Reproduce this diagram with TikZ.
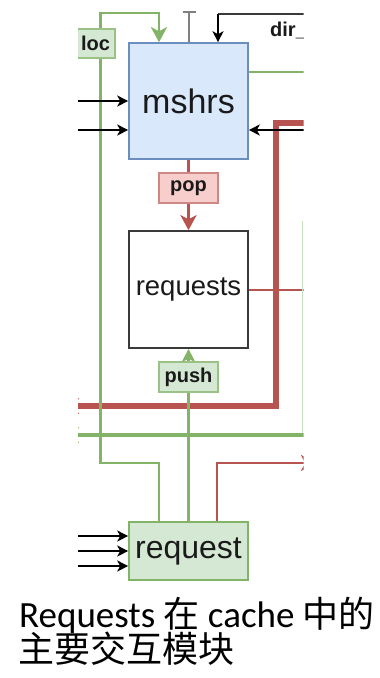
\documentclass[tikz,border=0pt]{standalone}
\usepackage{fontspec}
\setmainfont{Liberation Sans}
\newfontfamily\capfont{Carlito}
\newfontfamily\cjkfont{Noto Sans CJK SC}
\usetikzlibrary{arrows.meta}

\definecolor{gfill}{HTML}{D5E8D4}
\definecolor{gline}{HTML}{82B366}
\definecolor{glight}{HTML}{C9E0C2}
\definecolor{rfill}{HTML}{F8CECC}
\definecolor{rline}{HTML}{B85450}
\definecolor{bfill}{HTML}{DAE8FC}
\definecolor{bline}{HTML}{6C8EBF}
\definecolor{ink}{HTML}{1A1A1A}
\definecolor{wire}{HTML}{3A3A3A}

% caption style: fixed 35pt baseline distance regardless of glyph heights
\newcommand\captionstyle{\capfont\fontsize{37}{35}\selectfont\lineskiplimit=-100pt\relax}
\newcommand\cjkcap{\cjkfont\fontsize{36}{35}\selectfont}

\tikzset{
  box/.style={rectangle, inner sep=0pt, line width=1.6pt, text=ink},
  bluebox/.style={box, draw=bline, fill=bfill},
  greenbox/.style={box, draw=gline, fill=gfill},
  plainbox/.style={box, draw=wire, fill=white},
  tagred/.style={box, draw=rline!70, fill=rfill, minimum width=59pt, minimum height=30pt,
                 font=\bfseries\fontsize{20}{22}\selectfont},
  taggreen/.style={box, draw=gline!80, fill=gfill, minimum width=59pt, minimum height=30pt,
                 font=\bfseries\fontsize{20}{22}\selectfont},
  sig/.style={line width=1.5pt, draw=black},
  sigtip/.style={-{Stealth[length=11pt,width=11pt,inset=3pt]}},
  bigtip/.style={-{Stealth[length=15pt,width=16pt,inset=4pt]}},
  gwire/.style={line width=2.8pt, draw=gline},
  rwire/.style={line width=2.6pt, draw=rline},
  rbus/.style={line width=5.5pt, draw=rline},
  gbus/.style={line width=4.8pt, draw=gline},
}

\begin{document}
\begin{tikzpicture}[x=1pt,y=-1pt]
\useasboundingbox (0,0) rectangle (380,678);

\begin{scope}
\clip (78,0) rectangle (303.5,600);

% ---- blocks ----
\node[bluebox, minimum width=119pt, minimum height=116pt,
      font=\fontsize{34}{36}\selectfont] (mshrs) at (188.5,101) {mshrs};
\node[plainbox, minimum width=119pt, minimum height=117pt,
      font=\fontsize{27.5}{30}\selectfont] (requests) at (188.5,289.5) {requests};
\node[greenbox, minimum width=119pt, minimum height=58pt,
      font=\fontsize{32}{34}\selectfont] (request) at (188.5,551) {request};

% ---- edge labels ----
\node[tagred] (pop) at (188.5,188) {pop};
\node[taggreen] (push) at (188.5,377) {push};
\node[box, draw=gline!80, fill=gfill, minimum height=29pt, text width=33pt,
      inner xsep=5pt, align=right, font=\bfseries\fontsize{20}{22}\selectfont]
      (loc) at (93.5,43.5) {loc};
\node[anchor=base west, inner sep=0pt, text=ink,
      font=\bfseries\fontsize{20}{22}\selectfont] (dirlbl) at (270,36) {dir\_};

% ---- routing points ----
\coordinate (gA) at (100.7,13);
\coordinate (gB) at (159,13);
\coordinate (gC) at (100.7,463);
\coordinate (gD) at (159,463);
\coordinate (tTop) at (189,11);
\coordinate (dR) at (312,14);
\coordinate (dL) at (218,14);
\coordinate (gR) at (312,72);
\coordinate (bR) at (312,130);
\coordinate (bL1) at (70,101);
\coordinate (bL2) at (70,130);
\coordinate (rA) at (312,123);
\coordinate (rB) at (276,123);
\coordinate (rC) at (276,406);
\coordinate (rD) at (64,406);
\coordinate (rE) at (312,290);
\coordinate (lgA) at (302.5,221);
\coordinate (lgB) at (302.5,435);
\coordinate (gE) at (312,435);
\coordinate (gF) at (64,435);
\coordinate (rF) at (217,463);
\coordinate (rG) at (316,463);
\coordinate (qL1) at (70,536);
\coordinate (qL2) at (70,551);
\coordinate (qL3) at (70,566);

% ---- red wires ----
\draw[rwire] (requests.east |- rE) -- (rE);
\draw[rbus, bigtip] (rA) -- (rB) -- (rC) -- (rD);
\draw[rwire] (mshrs.south) -- (pop.north);
\draw[rwire, bigtip] (pop.south) -- (requests.north);
\draw[rwire, line width=2.8pt, bigtip] (rF |- request.north) -- (rF) -- (rG);

% ---- green wires ----
\draw[line width=1.2pt, draw=glight] (lgA) -- (lgB);
\draw[gbus, bigtip] (gE) -- (gF);
\draw[gwire, bigtip] (gA |- loc.north) -- (gA) -- (gB) -- (gB |- mshrs.north);
\draw[gwire] (gC |- loc.south) -- (gC) -- (gD) -- (gD |- request.north);
\draw[gwire] (request.north) -- (push.south);
\draw[gwire, -{Stealth[length=13pt,width=13pt,inset=3pt]}] (push.north) -- (requests.south);
\draw[gwire] (mshrs.east |- gR) -- (gR);

% ---- black / grey wires ----
\draw[line width=1.5pt, draw=gray, {Bar[width=13pt]}-] (tTop) -- (tTop |- mshrs.north);
\draw[line width=1.5pt, draw=wire] (dR) -- (dL);
\draw[sig, sigtip] (dL) -- (dL |- mshrs.north);
\draw[sig, sigtip] (bR) -- (bR -| mshrs.east);
\draw[sig, sigtip] (bL1) -- (bL1 -| mshrs.west);
\draw[sig, sigtip] (bL2) -- (bL2 -| mshrs.west);
\draw[sig, sigtip] (qL1) -- (qL1 -| request.west);
\draw[sig, sigtip] (qL2) -- (qL2 -| request.west);
\draw[sig, sigtip] (qL3) -- (qL3 -| request.west);
\end{scope}

% ---- caption (two lines; base anchor sits on the last line) ----
\node[anchor=base west, inner sep=0pt, align=left, font=\captionstyle]
  (caption) at (19,662)
  {Requests {\cjkcap 在} cache {\cjkcap 中的}\\
   \hspace*{-1pt}{\cjkcap 主要交互模块}};
\end{tikzpicture}
\end{document}
